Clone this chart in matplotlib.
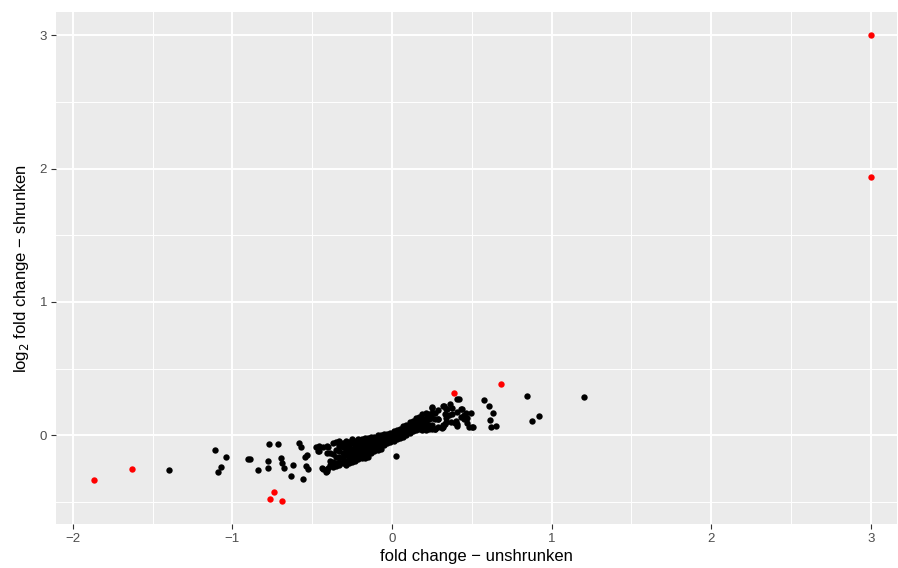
import matplotlib
matplotlib.use("Agg")
import matplotlib.pyplot as plt

plt.rcParams['font.family'] = ['Liberation Sans', 'DejaVu Sans']

# red (flagged) genes: unshrunken vs shrunken log2 fold change
red_x = [-1.867, -1.63, -0.737, -0.764, -0.689, 0.39, 0.683, 3.0, 3.0]
red_y = [-0.338, -0.255, -0.425, -0.475, -0.49, 0.32, 0.388, 3.0, 1.94]

# scattered black genes
sparse_x = [-1.397, -1.107, -1.038, -1.07, -1.088, -0.904, -0.89, -0.773, -0.714,
            -0.84, -0.775, -0.775, -0.697, -0.691, -0.675, -0.622, -0.635, -0.556,
            -0.585, -0.572, -0.543, -0.534, -0.539, -0.524, -0.478, -0.462, -0.437,
            -0.414, -0.399, -0.399, 0.023,
            1.205, 0.844, 0.921, 0.875, 0.574, 0.608, 0.631, 0.614, 0.62, 0.652,
            0.495, 0.464, 0.47, 0.499, 0.508, 0.422, 0.41, 0.432, 0.405, 0.407,
            0.378, 0.399, 0.37, 0.324, 0.343, 0.25, 0.315, 0.32, 0.363, 0.374,
            0.437, 0.45, 0.45, 0.48, 0.29, 0.332, 0.395, 0.27, 0.29, 0.34,
            0.36, 0.43, 0.41, 0.47, 0.33]
sparse_y = [-0.26, -0.107, -0.16, -0.238, -0.275, -0.175, -0.175, -0.068, -0.068,
            -0.258, -0.193, -0.243, -0.168, -0.208, -0.243, -0.225, -0.305, -0.33,
            -0.06, -0.085, -0.16, -0.145, -0.23, -0.25, -0.085, -0.118, -0.248,
            -0.275, -0.248, -0.085, -0.155,
            0.29, 0.295, 0.143, 0.107, 0.263, 0.22, 0.167, 0.113, 0.065, 0.068,
            0.17, 0.17, 0.13, 0.06, 0.062, 0.275, 0.275, 0.2, 0.178, 0.07,
            0.16, 0.105, 0.1, 0.22, 0.195, 0.208, 0.058, 0.07, 0.233, 0.207,
            0.195, 0.15, 0.12, 0.06, 0.12, 0.082, 0.095, 0.045, 0.06, 0.13,
            0.15, 0.14, 0.085, 0.095, 0.16]

# dense band of genes around the origin, read column by column
band_cols = [-0.46, -0.43, -0.41, -0.39, -0.37, -0.35, -0.33, -0.31, -0.29, -0.27,
             -0.25, -0.23, -0.21, -0.19, -0.17, -0.15, -0.13, -0.11, -0.09, -0.07,
             -0.05, -0.03, -0.01, 0.01, 0.03, 0.05, 0.07, 0.09, 0.11, 0.13,
             0.15, 0.17, 0.19, 0.21, 0.23, 0.25, 0.27, 0.29, 0.32, 0.34]
band_vals = [
    [-0.08, -0.12],
    [-0.09, -0.25],
    [-0.08, -0.13, -0.27],
    [-0.13, -0.19, -0.22],
    [-0.06, -0.14, -0.2, -0.24],
    [-0.05, -0.11, -0.16, -0.21, -0.23],
    [-0.04, -0.08, -0.12, -0.16, -0.2, -0.22],
    [-0.06, -0.09, -0.13, -0.17, -0.21],
    [-0.04, -0.08, -0.11, -0.15, -0.19, -0.22],
    [-0.05, -0.08, -0.12, -0.15, -0.18, -0.21],
    [-0.03, -0.06, -0.1, -0.13, -0.17, -0.2],
    [-0.04, -0.07, -0.1, -0.13, -0.16, -0.19],
    [-0.03, -0.06, -0.09, -0.12, -0.15, -0.18],
    [-0.03, -0.05, -0.08, -0.11, -0.14, -0.17],
    [-0.02, -0.05, -0.08, -0.11, -0.14, -0.17],
    [-0.02, -0.04, -0.07, -0.1, -0.13, -0.16],
    [-0.01, -0.04, -0.07, -0.1, -0.13],
    [-0.01, -0.03, -0.06, -0.09, -0.12],
    [0.0, -0.03, -0.06, -0.09, -0.11],
    [0.0, -0.02, -0.05, -0.08, -0.1],
    [0.01, -0.02, -0.05, -0.07],
    [0.01, -0.01, -0.04, -0.06],
    [0.02, 0.0, -0.03, -0.05],
    [0.03, 0.01, -0.02, -0.04],
    [0.04, 0.02, -0.01, -0.03],
    [0.05, 0.03, 0.0, -0.02],
    [0.07, 0.04, 0.01, -0.01],
    [0.08, 0.05, 0.02, 0.0],
    [0.1, 0.07, 0.04, 0.02],
    [0.11, 0.08, 0.05, 0.03],
    [0.13, 0.1, 0.07, 0.04],
    [0.14, 0.11, 0.08, 0.05],
    [0.16, 0.12, 0.09, 0.06, 0.04],
    [0.17, 0.13, 0.1, 0.07, 0.04],
    [0.16, 0.12, 0.08, 0.05],
    [0.21, 0.17, 0.13, 0.08, 0.05],
    [0.17, 0.12, 0.05],
    [0.12, 0.19],
    [0.22, 0.08, 0.06],
    [0.2, 0.1],
]

black_x = list(sparse_x)
black_y = list(sparse_y)
for cx, ys in zip(band_cols, band_vals):
    for yv in ys:
        black_x.append(cx)
        black_y.append(yv)

fig = plt.figure(figsize=(8.98, 5.68), dpi=100)
ax = fig.add_axes([56/898, 44/568, 841/898, 512/568])
ax.set_facecolor('#EBEBEB')
for s in ax.spines.values():
    s.set_visible(False)

ax.set_xlim(-2.105, 3.164)
ax.set_ylim(-0.665, 3.175)
ax.set_xticks([-2, -1, 0, 1, 2, 3])
ax.set_xticklabels(['\u22122', '\u22121', '0', '1', '2', '3'])
ax.set_yticks([0, 1, 2, 3])
ax.set_xticks([-1.5, -0.5, 0.5, 1.5, 2.5], minor=True)
ax.set_yticks([-0.5, 0.5, 1.5, 2.5], minor=True)
ax.grid(which='major', color='white', linewidth=1.4)
ax.grid(which='minor', color='white', linewidth=0.7)
ax.set_axisbelow(True)
ax.tick_params(which='major', length=3.5, width=0.8, color='#333333',
               labelcolor='#4D4D4D', labelsize=9.5, pad=3)
ax.tick_params(which='minor', length=0)

ax.scatter(black_x, black_y, s=21, c='black', linewidths=0, zorder=3)
ax.scatter(red_x, red_y, s=21, c='red', linewidths=0, zorder=4)

ax.set_xlabel('fold change \u2212 unshrunken', fontsize=12, labelpad=3)
ax.set_ylabel('log$_2$ fold change \u2212 shrunken', fontsize=12, labelpad=6)

fig.savefig('out.png', dpi=100)
